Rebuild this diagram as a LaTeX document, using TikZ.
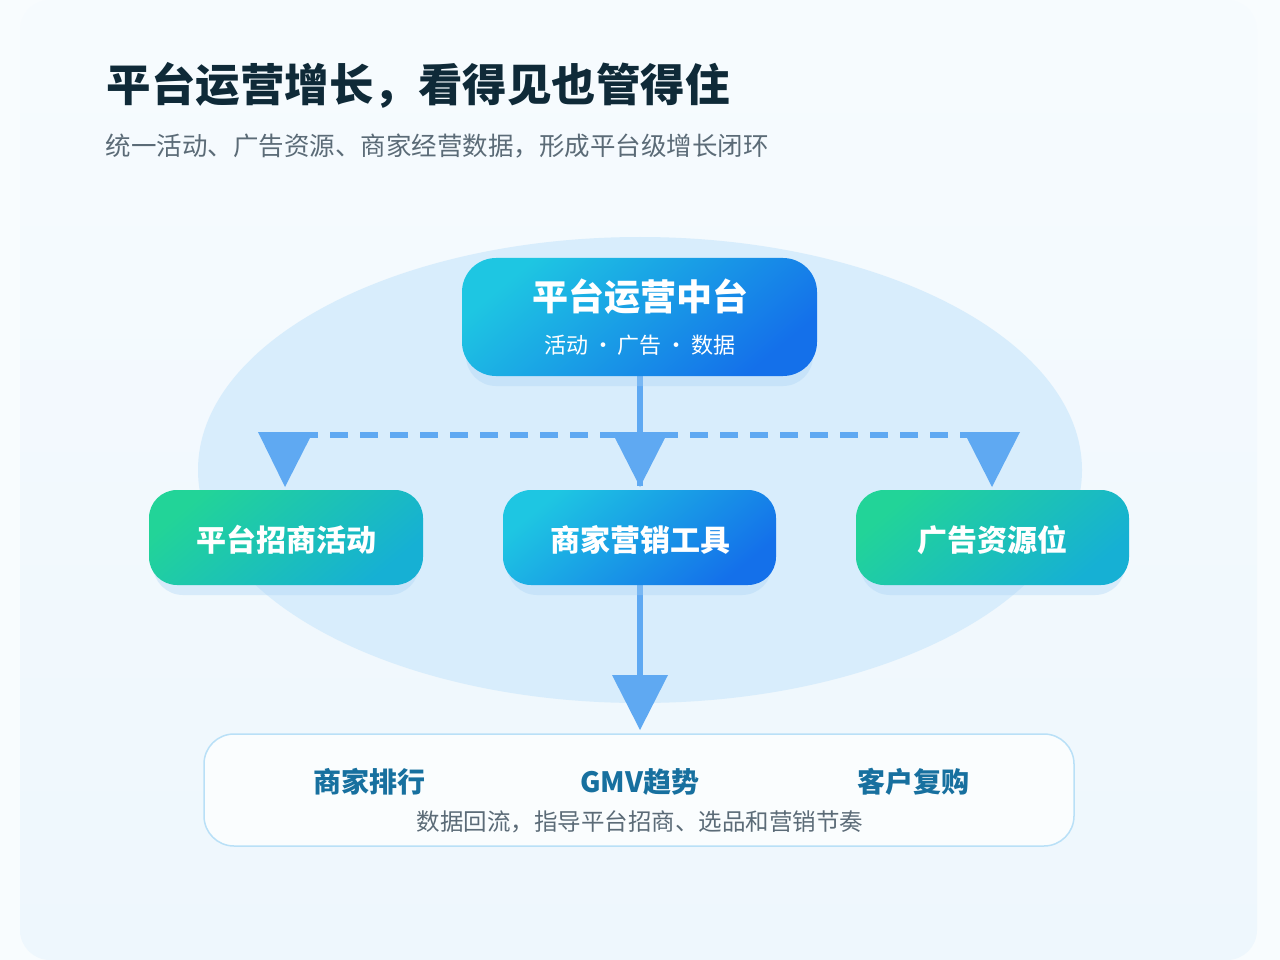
\documentclass[tikz,border=0pt]{standalone}
\usepackage{fontspec}
\setmainfont{Noto Sans CJK SC}
\definecolor{bg}{HTML}{EEF7FD}
\definecolor{ell}{HTML}{D8EDFC}
\definecolor{arr}{HTML}{5FA9F2}
\definecolor{ttl}{HTML}{0F2A38}
\definecolor{sub}{HTML}{5B6B77}
\definecolor{bt}{HTML}{17709F}
\definecolor{shd}{HTML}{A9D3F5}
\tikzset{
 box/.style={rounded corners=28pt, draw=none},
 lbl/.style={text=white, font=\fontsize{30}{34}\selectfont\bfseries},
 bl/.style={text=bt, font=\fontsize{28}{32}\selectfont\bfseries},
 tri/.style={fill=arr, draw=none},
 glow/.style={fill=shd, opacity=0.35, rounded corners=30pt},
 bluefill/.style={left color={rgb,255:red,30;green,198;blue,226}, right color={rgb,255:red,20;green,112;blue,234}, shading angle=40},
 greenfill/.style={left color={rgb,255:red,34;green,212;blue,152}, right color={rgb,255:red,22;green,176;blue,212}, shading angle=40}
}
\begin{document}
\begin{tikzpicture}[x=1pt,y=-1pt]
\useasboundingbox (0,0) rectangle (1280,960);
\fill[white!60!bg] (0,0) rectangle (1280,960);
\shade[rounded corners=30pt, top color=white!50!bg, bottom color=bg] (20,0) rectangle (1257,960);
\fill[ell] (640,470) ellipse [x radius=442, y radius=233];
\node[anchor=west, text=ttl, font=\fontsize{44.5}{50}\selectfont\bfseries] (t) at (103,85) {平台运营增长，看得见也管得住};
\node[anchor=west, text=sub, font=\fontsize{25.5}{30}\selectfont] (s) at (102,146) {统一活动、广告资源、商家经营数据，形成平台级增长闭环};
% connectors
\draw[arr, line width=6pt] (640,376) -- (640,486);
\draw[arr, line width=6pt, dash pattern=on 18pt off 12pt] (300,435) -- (992,435);
\draw[arr, line width=6pt] (640,585) -- (640,690);
\fill[tri] (258,432) -- (313,432) -- (285,487) -- cycle;
\fill[tri] (612,432) -- (668,432) -- (640,487) -- cycle;
\fill[tri] (964,432) -- (1020,432) -- (992,487) -- cycle;
\fill[tri] (612,675) -- (668,675) -- (640,730) -- cycle;
% glows
\fill[glow] (466,270) rectangle (813,386);
\fill[glow] (153,500) rectangle (419,595);
\fill[glow] (507,500) rectangle (772,595);
\fill[glow] (860,500) rectangle (1125,595);
% top
\path[box, bluefill, rounded corners=34pt] (462,258) rectangle (817,376);
\node[lbl, font=\fontsize{36}{40}\selectfont\bfseries] (top) at (640,297) {平台运营中台};
\node[text=white, font=\fontsize{22}{26}\selectfont] (tops) at (640,345) {活动\,·\,广告\,·\,数据};
% row
\path[box, greenfill] (149,490) rectangle (423,585);
\node[lbl] (a) at (286,540) {平台招商活动};
\path[box, bluefill] (503,490) rectangle (776,585);
\node[lbl] (b) at (640,540) {商家营销工具};
\path[box, greenfill] (856,490) rectangle (1129,585);
\node[lbl] (c) at (992,540) {广告资源位};
% bottom
\path[rounded corners=30pt, fill=white!70!bg, draw={rgb,255:red,185;green,224;blue,247}, line width=1.5pt] (204,734) rectangle (1074,846);
\node[bl] (m1) at (369,782) {商家排行};
\node[bl] (m2) at (640,782) {GMV趋势};
\node[bl] (m3) at (913,782) {客户复购};
\node[text=sub, font=\fontsize{23.5}{28}\selectfont] (m4) at (640,822) {数据回流，指导平台招商、选品和营销节奏};
\end{tikzpicture}
\end{document}
